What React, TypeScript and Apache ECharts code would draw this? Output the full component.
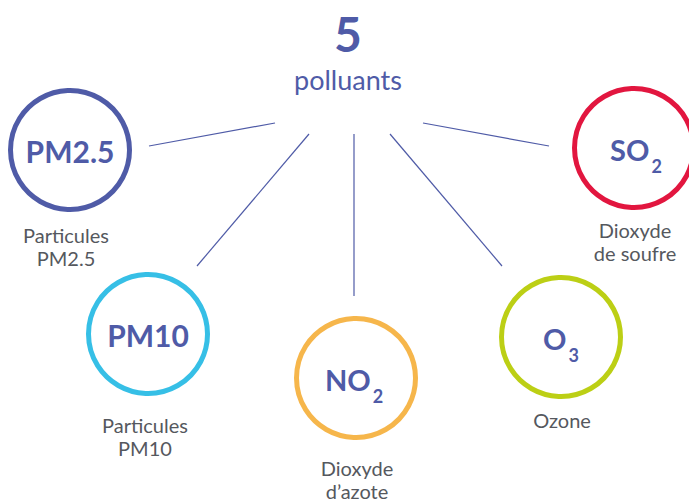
import React, { useEffect, useRef } from "react";
import * as echarts from "echarts";

// ---- content ----
const headlineNumber = "5";
const headlineWord = "polluants";
const pollutantNames = ["PM2.5", "PM10", "NO", "O", "SO"];
const pollutantSubscripts = ["", "", "2", "3", "2"];
const pollutantDescriptions = [
  "Particules\nPM2.5",
  "Particules\nPM10",
  "Dioxyde\nd\u2019azote",
  "Ozone",
  "Dioxyde\nde soufre",
];
const ringColors = ["#4f5ba7", "#36bfe6", "#f6b64b", "#bccf15", "#e2163f"];

// ---- layout (positions, sizes) ----
const circleCenters = [
  [70, 150],
  [148, 334],
  [356, 378],
  [561, 337],
  [634, 148],
];
const circleRadius = 59.5;
const nameFontSizes = [30, 30, 29, 29, 29];
const nameOffsetsX = [0, 0, -2, 0, 2];
const descCenters = [
  [66, 246],
  [145, 436],
  [357, 479],
  [562, 420],
  [635, 241],
];
const connectorLines = [
  [149, 146, 275, 123],
  [309, 134, 197, 266],
  [354, 134, 354, 296],
  [390, 134, 502, 266],
  [423, 123, 549, 146],
];

const BLUE = "#4f5ba7";
const GREY = "#55585e";
const FONT = "Lato, 'Open Sans', sans-serif";
const SUB_SIZE = 18;

function measure(text: string, font: string): number {
  const c = document.createElement("canvas");
  const ctx = c.getContext("2d")!;
  ctx.font = font;
  return ctx.measureText(text).width;
}

export default function App() {
  const ref = useRef<HTMLDivElement>(null);
  useEffect(() => {
    document.body.style.margin = "0";
    const chart = echarts.init(ref.current!, null, { renderer: "svg" });
    const elements: any[] = [];

    connectorLines.forEach((l) => {
      elements.push({
        type: "line",
        shape: { x1: l[0], y1: l[1], x2: l[2], y2: l[3] },
        style: { stroke: BLUE, lineWidth: 1.2 },
      });
    });

    pollutantNames.forEach((name, i) => {
      const [cx, cy] = circleCenters[i];
      elements.push({
        type: "circle",
        shape: { cx, cy, r: circleRadius },
        style: { fill: "#ffffff", stroke: ringColors[i], lineWidth: 5 },
      });
      const fs = nameFontSizes[i];
      const sub = pollutantSubscripts[i];
      if (!sub) {
        elements.push({
          type: "text",
          x: cx,
          y: cy + 1,
          style: {
            text: name,
            fontSize: fs,
            fontWeight: "bold",
            fontFamily: FONT,
            fill: BLUE,
            textAlign: "center",
            textVerticalAlign: "middle",
          },
        });
      } else {
        const wM = measure(name, `bold ${fs}px ${FONT}`);
        const wS = measure(sub, `bold ${SUB_SIZE}px ${FONT}`);
        const gap = 2;
        const left = cx + nameOffsetsX[i] - (wM + gap + wS) / 2;
        elements.push({
          type: "text",
          x: left,
          y: cy + 1,
          style: {
            text: name,
            fontSize: fs,
            fontWeight: "bold",
            fontFamily: FONT,
            fill: BLUE,
            textAlign: "left",
            textVerticalAlign: "middle",
          },
        });
        elements.push({
          type: "text",
          x: left + wM + gap,
          y: cy + 18,
          style: {
            text: sub,
            fontSize: SUB_SIZE,
            fontWeight: "bold",
            fontFamily: FONT,
            fill: BLUE,
            textAlign: "left",
            textVerticalAlign: "middle",
          },
        });
      }
      const [dx, dy] = descCenters[i];
      elements.push({
        type: "text",
        x: dx,
        y: dy,
        style: {
          text: pollutantDescriptions[i],
          fontSize: 20,
          fontFamily: FONT,
          fill: GREY,
          lineHeight: 23,
          textAlign: "center",
          textVerticalAlign: "middle",
        },
      });
    });

    elements.push({
      type: "text",
      x: 348,
      y: 33,
      style: {
        text: headlineNumber,
        fontSize: 48,
        fontWeight: "bold",
        fontFamily: FONT,
        fill: BLUE,
        textAlign: "center",
        textVerticalAlign: "middle",
      },
    });
    elements.push({
      type: "text",
      x: 348,
      y: 79,
      style: {
        text: headlineWord,
        fontSize: 27,
        fontFamily: FONT,
        fill: BLUE,
        textAlign: "center",
        textVerticalAlign: "middle",
      },
    });

    chart.setOption({
      animation: false,
      backgroundColor: "#ffffff",
      graphic: { elements },
    });
    return () => chart.dispose();
  }, []);
  return <div ref={ref} style={{ width: 689, height: 502 }} />;
}
